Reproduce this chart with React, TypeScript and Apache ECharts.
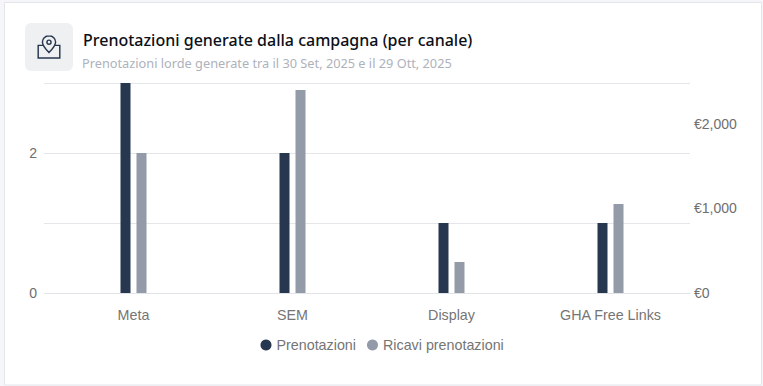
import React, { useEffect, useRef } from "react";
import * as echarts from "echarts";

const categories = ["Meta", "SEM", "Display", "GHA Free Links"];
const bookings = [3, 2, 1, 1];
const revenue = [1652, 2395, 366, 1050];
const seriesNames = ["Prenotazioni", "Ricavi prenotazioni"];
const titleText = "Prenotazioni generate dalla campagna (per canale)";
const subtitleText = "Prenotazioni lorde generate tra il 30 Set, 2025 e il 29 Ott, 2025";

const pinPath =
  "M12 2C8.7 2 6.5 4.4 6.5 7.2 6.5 10.4 12 16 12 16s5.5-5.6 5.5-8.8C17.5 4.4 15.3 2 12 2z M12 5.6a1.7 1.7 0 1 0 0 3.4 1.7 1.7 0 0 0 0-3.4z M7 10H3v10.5h18V10h-4";
echarts.graphic.registerShape("pinbox", echarts.graphic.extendPath(pinPath, {}) as any);

export default function App() {
  const ref = useRef<HTMLDivElement>(null);
  useEffect(() => {
    const chart = echarts.init(ref.current!, null, { renderer: "svg" });
    const font = "Liberation Sans, Arial, sans-serif";
    chart.setOption({
      animation: false,
      backgroundColor: "#f5f6f9",
      color: ["#27374f", "#939aa8"],
      textStyle: { fontFamily: font },
      grid: { left: 54, right: 73, top: 83, bottom: 93 },
      legend: {
        top: 333,
        left: 255.5,
        icon: "circle",
        itemWidth: 11,
        itemHeight: 11,
        itemGap: 11,
        textStyle: { color: "#757575", fontSize: 14.3, fontFamily: font },
        data: seriesNames,
      },
      xAxis: {
        type: "category",
        data: categories,
        axisLine: { lineStyle: { color: "#e0e3e7" } },
        axisTick: { show: false },
        axisLabel: { color: "#757575", fontSize: 14.3, margin: 15, fontFamily: font },
      },
      yAxis: [
        {
          type: "value",
          min: 0,
          max: 3,
          interval: 1,
          axisLabel: {
            color: "#6e6e6e",
            fontSize: 14,
            margin: 17,
            fontFamily: font,
            formatter: (v: number) => (v === 0 || v === 2 ? String(v) : ""),
          },
          splitLine: { lineStyle: { color: "#e4e6e9" } },
          axisLine: { show: false },
          axisTick: { show: false },
        },
        {
          type: "value",
          min: 0,
          max: 2478,
          interval: 1000,
          position: "right",
          axisLabel: {
            color: "#6e6e6e",
            fontSize: 14,
            margin: 4,
            showMaxLabel: false,
            fontFamily: font,
            formatter: (v: number) => "€" + v.toLocaleString("en-US"),
          },
          splitLine: { show: false },
          axisLine: { show: false },
          axisTick: { show: false },
        },
      ],
      series: [
        { name: seriesNames[0], type: "bar", data: bookings, barWidth: 10, barGap: "60%", yAxisIndex: 0 },
        { name: seriesNames[1], type: "bar", data: revenue, barWidth: 10, barGap: "60%", yAxisIndex: 1 },
      ],
      graphic: [
        { type: "rect", z: -1, silent: true, shape: { x: 4.5, y: 2.5, width: 757, height: 382.5 }, style: { fill: "#fff", stroke: "#e3e5e9", lineWidth: 1 } },
        { type: "rect", shape: { x: 25, y: 23, width: 48, height: 48, r: 6 }, style: { fill: "#eff0f2" } },
        { type: "pinbox", x: 34.6, y: 33.4, scaleX: 1.2, scaleY: 1.2, shape: {}, style: { fill: "none", stroke: "#27374f", lineWidth: 1.2 } },
        { type: "text", x: 83, y: 32, style: { text: titleText, fill: "#0b0f17", font: "500 16px 'Noto Sans', sans-serif" } },
        { type: "text", x: 82, y: 56, style: { text: subtitleText, fill: "#aeb2bb", font: "12.75px 'Noto Sans', sans-serif" } },
        { type: "line", shape: { x1: 44, y1: 83.5, x2: 54, y2: 83.5 }, style: { stroke: "#e4e6e9" } },
        { type: "line", shape: { x1: 44, y1: 153.5, x2: 54, y2: 153.5 }, style: { stroke: "#e4e6e9" } },
        { type: "line", shape: { x1: 44, y1: 223.5, x2: 54, y2: 223.5 }, style: { stroke: "#e4e6e9" } },
        { type: "line", shape: { x1: 44, y1: 293.5, x2: 54, y2: 293.5 }, style: { stroke: "#e4e6e9" } },
      ],
    });
    return () => chart.dispose();
  }, []);
  return <div ref={ref} style={{ position: "absolute", left: 0, top: 0, width: 763, height: 386 }} />;
}
